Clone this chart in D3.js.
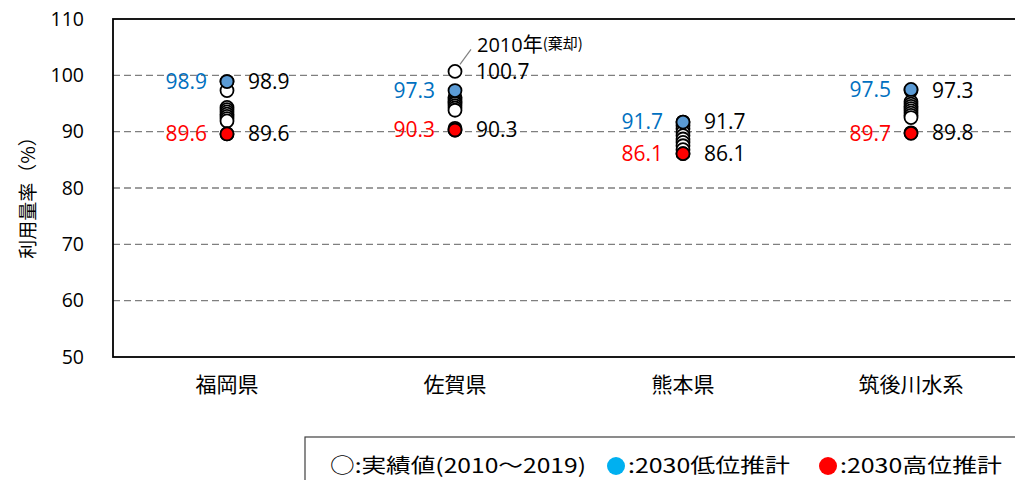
<!DOCTYPE html>
<html>
<head>
<meta charset="utf-8">
<script src="https://cdn.jsdelivr.net/npm/d3@7"></script>
<style>
  html, body { margin: 0; padding: 0; background: #fff; }
  svg { display: block; }
  text { font-family: "Noto Sans CJK JP", "Noto Sans", sans-serif; }
</style>
</head>
<body>
<svg id="chart" width="1015" height="480"></svg>
<script>
// Categories (prefectures / river system)
const categories = ["福岡県", "佐賀県", "熊本県", "筑後川水系"];

// Observed utilisation rates 2010–2019 (open circles)
const actualFukuoka = [98.9, 97.3, 94.3, 93.9, 93.5, 93.1, 92.7, 92.3, 91.9, 89.6];
const actualSaga    = [100.7, 96.1, 95.7, 95.3, 95.0, 94.6, 94.2, 93.8, 90.6, 90.3];
const actualKuma    = [91.7, 91.1, 90.5, 89.9, 89.3, 88.7, 88.1, 87.5, 86.8, 86.1];
const actualChikugo = [97.3, 95.3, 94.9, 94.5, 94.1, 93.7, 93.3, 92.9, 92.5, 89.8];
const actualSeries  = [actualFukuoka, actualSaga, actualKuma, actualChikugo];

// 2030 projections
const lowEstimate  = [98.9, 97.3, 91.7, 97.5];
const highEstimate = [89.6, 90.3, 86.1, 89.7];

// Max / min of the observed values, printed on the right of each column
const maxLabels = [98.9, 100.7, 91.7, 97.3];
const minLabels = [89.6, 90.3, 86.1, 89.8];

const yTicks = [50, 60, 70, 80, 90, 100, 110];

const svg = d3.select("#chart");
const margin = { left: 113, top: 19, right: -10, bottom: 123 };
const W = 1015, H = 480;

const x = d3.scaleBand().domain(categories).range([margin.left, W - margin.right]);
const y = d3.scaleLinear().domain([50, 110]).range([H - margin.bottom, margin.top]);
const cx = c => x(c) + x.bandwidth() / 2;

const numFont = "'Open Sans', 'Noto Sans', sans-serif";

// Dashed gridlines
svg.append("g")
  .selectAll("line")
  .data(yTicks.filter(t => t > 50 && t < 110))
  .join("line")
  .attr("x1", margin.left).attr("x2", W - margin.right)
  .attr("y1", d => y(d)).attr("y2", d => y(d))
  .attr("stroke", "#7f7f7f").attr("stroke-width", 1.4)
  .attr("stroke-dasharray", "7,4");

// Plot frame
svg.append("rect")
  .attr("x", margin.left).attr("y", y(110))
  .attr("width", W - margin.right - margin.left)
  .attr("height", y(50) - y(110))
  .attr("fill", "none").attr("stroke", "#000").attr("stroke-width", 1.8);

// Y axis labels
const yAxis = d3.axisLeft(y).tickValues(yTicks).tickSize(0).tickPadding(29);
const gy = svg.append("g").attr("transform", `translate(${margin.left},0)`).call(yAxis);
gy.select(".domain").remove();
gy.selectAll("text").attr("font-size", 19.5).attr("fill", "#000")
  .style("font-family", numFont);

// X axis labels
const xAxis = d3.axisBottom(x).tickSize(0).tickPadding(20);
const gx = svg.append("g").attr("transform", `translate(0,${y(50)})`).call(xAxis);
gx.select(".domain").remove();
gx.selectAll("text").attr("font-size", 21).attr("fill", "#000");

// Y title
svg.append("text")
  .attr("transform", `translate(28,${(y(50) + y(110)) / 2 + 5}) rotate(-90)`)
  .attr("text-anchor", "middle")
  .attr("dy", "0.35em")
  .attr("font-size", 19)
  .text("利用量率（%）");

const R = 6.5;

// Observed values: open circles
categories.forEach((c, i) => {
  svg.append("g")
    .selectAll("circle")
    .data(actualSeries[i])
    .join("circle")
    .attr("cx", cx(c)).attr("cy", d => y(d)).attr("r", R)
    .attr("fill", "#fff").attr("stroke", "#000").attr("stroke-width", 1.8);
});

// Projections
svg.append("g").selectAll("circle").data(categories).join("circle")
  .attr("cx", d => cx(d)).attr("cy", (d, i) => y(lowEstimate[i])).attr("r", R)
  .attr("fill", "#5b9bd5").attr("stroke", "#000").attr("stroke-width", 1.8);
svg.append("g").selectAll("circle").data(categories).join("circle")
  .attr("cx", d => cx(d)).attr("cy", (d, i) => y(highEstimate[i])).attr("r", R)
  .attr("fill", "#ff0000").attr("stroke", "#000").attr("stroke-width", 1.8);

// Value labels
const fmt = d3.format(".1f");
function labels(values, dx, anchor, color) {
  svg.append("g").selectAll("text").data(categories).join("text")
    .attr("x", d => cx(d) + dx)
    .attr("y", (d, i) => y(values[i]))
    .attr("dy", "0.35em")
    .attr("text-anchor", anchor)
    .attr("font-size", 21)
    .attr("fill", color)
    .style("font-family", numFont)
    .text((d, i) => fmt(values[i]));
}
labels(lowEstimate, -20, "end", "#0070c0");
labels(highEstimate, -20, "end", "#ff0000");
labels(maxLabels, 21, "start", "#000");
labels(minLabels, 21, "start", "#000");

// Note on the rejected 2010 value
const sagaX = cx("佐賀県");
svg.append("line")
  .attr("x1", sagaX + 5).attr("y1", y(100.7) - 7)
  .attr("x2", sagaX + 16).attr("y2", y(100.7) - 22)
  .attr("stroke", "#808080").attr("stroke-width", 1.2);
const note = svg.append("text")
  .attr("x", sagaX + 22).attr("y", y(100.7) - 19)
  .attr("font-size", 20)
  .style("font-family", numFont);
note.append("tspan").text("2010");
note.append("tspan").style("font-family", "'Noto Sans CJK JP'").text("年");
note.append("tspan").attr("font-size", 15).attr("dy", -3)
  .style("font-family", "'Noto Sans CJK JP'").text("(棄却)");

// Legend
const lg = svg.append("g");
lg.append("rect")
  .attr("x", 305).attr("y", 437).attr("width", 720).attr("height", 60)
  .attr("fill", "#fff").attr("stroke", "#404040").attr("stroke-width", 1.2);
const legendY = 466;
lg.append("text").attr("x", 330).attr("y", legendY).attr("dy", "0.35em")
  .attr("font-size", 20).attr("textLength", 256).attr("lengthAdjust", "spacingAndGlyphs")
  .text("○:実績値(2010～2019)");
lg.append("circle").attr("cx", 616).attr("cy", legendY).attr("r", 9).attr("fill", "#00b0f0");
lg.append("text").attr("x", 628).attr("y", legendY).attr("dy", "0.35em")
  .attr("font-size", 20).attr("textLength", 162).attr("lengthAdjust", "spacingAndGlyphs")
  .text(":2030低位推計");
lg.append("circle").attr("cx", 828).attr("cy", legendY).attr("r", 9).attr("fill", "#ff0000");
lg.append("text").attr("x", 840).attr("y", legendY).attr("dy", "0.35em")
  .attr("font-size", 20).attr("textLength", 162).attr("lengthAdjust", "spacingAndGlyphs")
  .text(":2030高位推計");
</script>
</body>
</html>
